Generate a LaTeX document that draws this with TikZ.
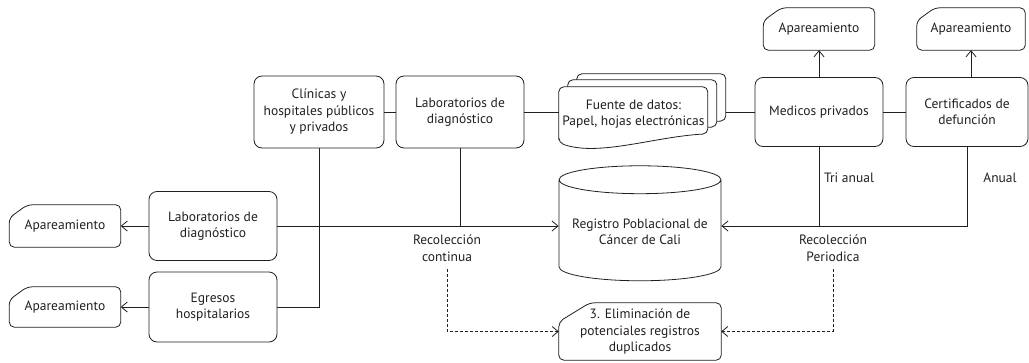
\documentclass[tikz,border=0pt]{standalone}
\usepackage{fontspec}
\setmainfont{PT Sans}
\usetikzlibrary{positioning,shapes.geometric,arrows.meta}
\pgfdeclarelayer{fondo}
\pgfsetlayers{fondo,main}
\definecolor{trazo}{HTML}{231F20}
\tikzset{
        caja/.style={align=center, inner sep=2pt, text=trazo, font=\fontsize{13.5}{16.5}\selectfont},
        % Cajas de proceso
        proceso/.style={caja, rectangle, rounded corners=8pt, draw=trazo, line width=0.8pt, minimum width=128pt, minimum height=70pt},
        % Tarjetas con la esquina recortada
        tarjeta/.style 2 args={caja, minimum width=111pt, minimum height=42pt,
            append after command={\pgfextra{\pgfinterruptpath
                \draw[draw=trazo, line width=0.8pt, rounded corners=5pt]
                    ([xshift=#1]\tikzlastnode.north west) -- (\tikzlastnode.north east) -- (\tikzlastnode.south east)
                    -- (\tikzlastnode.south west) -- ([yshift=-#2]\tikzlastnode.north west) -- cycle;
            \endpgfinterruptpath}}},
        % Base de datos
        registro/.style={caja, cylinder, shape border rotate=90, aspect=0.2, draw=trazo, line width=0.8pt, minimum width=162pt, minimum height=115pt},
        % Hojas de la fuente de datos
        hoja/.style={draw=trazo, line width=0.8pt, fill=white, rounded corners=5pt},
        etiqueta/.style={caja},
        linea/.style={draw=trazo, line width=0.8pt},
        flecha/.style={linea, -{Straight Barb[length=6pt,width=10pt]}},
        flechapunt/.style={flecha, dash pattern=on 3pt off 2pt}
}
\begin{document}
\begin{tikzpicture}[x=1pt, y=-1pt]
    \useasboundingbox (0,0) rectangle (1029,362);
    % fila superior
    \node[proceso, minimum width=130pt, minimum height=72pt] (clinicas) at (319,112) {Clínicas y\\hospitales públicos\\y privados};
    \node[proceso, minimum height=72pt] (labsup) at (460,112) {Laboratorios de\\diagnóstico};
    \node[caja, minimum width=149pt, minimum height=54pt] (fuente) at (633.5,114) {Fuente de datos:\\Papel, hojas electrónicas};
    \coordinate (fuenteder) at ([xshift=18pt]fuente.east);
    \node[proceso, minimum height=69pt] (medicos) at (819,112) {Medicos privados};
    \node[proceso, minimum width=122pt, minimum height=69pt] (certificados) at (967,112) {Certificados de\\defunción};
    \node[tarjeta={18pt}{13pt}] (apmed) at (819,29) {Apareamiento};
    \node[tarjeta={18pt}{13pt}, minimum width=108pt] (apcert) at (971,29) {Apareamiento};
    % fila izquierda
    \node[proceso, minimum height=69pt] (labizq) at (213,226) {Laboratorios de\\diagnóstico};
    \node[proceso] (egresos) at (213,307) {Egresos\\hospitalarios};
    \node[tarjeta={18pt}{13pt}] (apizq1) at (65,226) {Apareamiento};
    \node[tarjeta={18pt}{13pt}, minimum height=40pt] (apizq2) at (65,307) {Apareamiento};
    % registro y depuracion
    \node[registro] (registro) at (640,232) {Registro Poblacional de\\Cáncer de Cali};
    \node[tarjeta={31pt}{19pt}, minimum width=162pt, minimum height=57pt] (elimina) at (640,331.5) {3. Eliminación de\\potenciales registros\\duplicados};
    % etiquetas
    \node[etiqueta] (trianual) at (849,178) {Tri anual};
    \node[etiqueta] (anual) at (1000,178) {Anual};
    \node[etiqueta] (reccont) at (447,248) {Recolección\\continua};
    \node[etiqueta] (recper) at (833,248) {Recolección\\Periodica};
    % hojas apiladas
    \begin{pgfonlayer}{fondo}
        \foreach \dx/\dy in {18/-13, 9/-7, 0/0}{
            \begin{scope}[shift={(fuente.north west)}, shift={(\dx,\dy)}]
                \draw[hoja] (0,56) -- (0,0) -- (149,0) -- (149,47) .. controls (95,50) and (40,70) .. (0,56) -- cycle;
            \end{scope}
        }
    \end{pgfonlayer}
    \coordinate (regizq) at (registro.west |- labizq);
    \coordinate (regder) at (registro.east |- labizq);
    % conexiones
    \draw[linea] (clinicas) -- (labsup);
    \draw[linea] (labsup) -- (labsup -| fuente.west);
    \draw[linea] (medicos) -- (medicos -| fuenteder);
    \draw[linea] (medicos) -- (certificados);
    \draw[flecha] (medicos) -- (apmed);
    \draw[flecha] (apcert.south |- certificados.north) -- (apcert);
    \draw[flecha] (labizq) -- (apizq1);
    \draw[flecha] (egresos) -- (apizq2);
    \draw[flecha] (labizq) -- (regizq);
    \draw[linea] (clinicas) |- (egresos);
    \draw[linea] (labsup) -- (labsup |- labizq);
    \draw[flecha] (certificados) |- (regder);
    \draw[linea] (medicos) -- (medicos |- regder);
    \draw[flechapunt] ([yshift=-6pt]reccont.south) |- (elimina);
    \draw[flechapunt] ([yshift=-6pt]recper.south) |- (elimina);
\end{tikzpicture}
\end{document}
